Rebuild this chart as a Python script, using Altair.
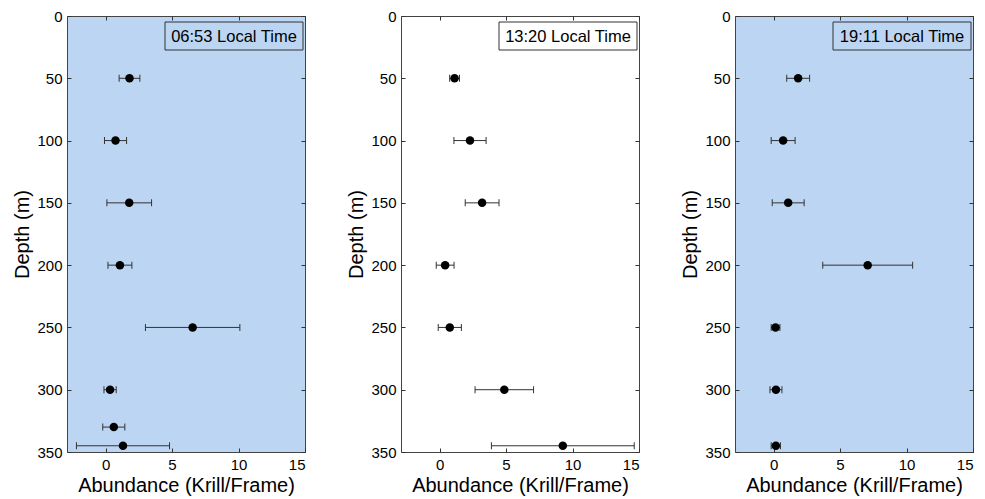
import altair as alt
import pandas as pd

# ---- data ----
labels = ["06:53 Local Time", "13:20 Local Time", "19:11 Local Time"]
backgrounds = ["#bcd5f2", "#ffffff", "#bcd5f2"]

depth_0653 = [50, 100, 150, 200, 250, 300, 330, 345]
mean_0653 = [1.80, 0.75, 1.78, 1.08, 6.55, 0.34, 0.62, 1.31]
err_0653 = [0.78, 0.83, 1.68, 0.90, 3.55, 0.46, 0.83, 3.50]

depth_1320 = [50, 100, 150, 200, 250, 300, 345]
mean_1320 = [1.13, 2.29, 3.20, 0.42, 0.77, 4.87, 9.27]
err_1320 = [0.37, 1.21, 1.27, 0.67, 0.87, 2.20, 5.37]

depth_1911 = [50, 100, 150, 200, 250, 300, 345]
mean_1911 = [1.85, 0.72, 1.10, 7.08, 0.15, 0.18, 0.17]
err_1911 = [0.86, 0.90, 1.20, 3.38, 0.33, 0.45, 0.35]

x_ticks = [0, 5, 10, 15]
y_ticks = [0, 50, 100, 150, 200, 250, 300, 350]
x_domain = [-2.9, 15]
y_domain = [0, 350]

W, H = 238, 436
FONT = "Liberation Sans"
INK = "#333333"


def tick_axis(orient, offset, values):
    return alt.Axis(orient=orient, offset=offset, values=values, labels=False,
                    title=None, domain=False, grid=False, ticks=True,
                    tickSize=4, tickColor=INK, tickWidth=1)


def panel(depths, means, errs, label, bg):
    df = pd.DataFrame({"depth": depths, "mean": means, "err": errs})
    df["lo"] = df["mean"] - df["err"]
    df["hi"] = df["mean"] + df["err"]
    xs = alt.Scale(domain=x_domain, nice=False, zero=False)
    ys = alt.Scale(domain=y_domain, reverse=True, nice=False, zero=False)
    base = alt.Chart(df)

    main_x = alt.Axis(orient="bottom", values=x_ticks, title="Abundance (Krill/Frame)",
                      ticks=False, domain=False, grid=False, labelPadding=5,
                      titlePadding=3)
    main_y = alt.Axis(orient="left", values=y_ticks, title="Depth (m)",
                      ticks=False, domain=False, grid=False, labelPadding=5,
                      titlePadding=4)

    bars = base.mark_rule(color=INK, strokeWidth=1).encode(
        x=alt.X("lo:Q", scale=xs, axis=main_x),
        x2="hi:Q",
        y=alt.Y("depth:Q", scale=ys, axis=main_y),
    )
    cap_lo = base.mark_tick(orient="vertical", size=7, thickness=1, color=INK, opacity=1).encode(
        x=alt.X("lo:Q", scale=xs, axis=tick_axis("top", -H, x_ticks)),
        y=alt.Y("depth:Q", scale=ys, axis=tick_axis("right", -W, y_ticks)),
    )
    cap_hi = base.mark_tick(orient="vertical", size=7, thickness=1, color=INK, opacity=1).encode(
        x=alt.X("hi:Q", scale=xs, axis=tick_axis("bottom", -H, x_ticks)),
        y=alt.Y("depth:Q", scale=ys, axis=tick_axis("left", -W, y_ticks)),
    )
    pts = base.mark_circle(size=72, color="black", opacity=1).encode(
        x=alt.X("mean:Q", scale=xs, axis=None),
        y=alt.Y("depth:Q", scale=ys, axis=None),
    )
    lab = alt.Chart(pd.DataFrame({"label": [label]}))
    box = lab.mark_rect(fillOpacity=0, stroke=INK, strokeWidth=1).encode(
        x=alt.value(98), x2=alt.value(236), y=alt.value(6), y2=alt.value(34)
    )
    txt = lab.mark_text(font=FONT, fontSize=16.5, align="center", baseline="middle",
                        color="black").encode(
        x=alt.value(167), y=alt.value(20.5), text="label:N"
    )
    return alt.layer(bars, cap_lo, cap_hi, pts, box, txt).resolve_axis(
        x="independent", y="independent"
    ).properties(width=W, height=H,
                 view=alt.ViewBackground(fill=bg, stroke="#444444", strokeWidth=1))


chart = alt.hconcat(
    panel(depth_0653, mean_0653, err_0653, labels[0], backgrounds[0]),
    panel(depth_1320, mean_1320, err_1320, labels[1], backgrounds[1]),
    panel(depth_1911, mean_1911, err_1911, labels[2], backgrounds[2]),
    spacing=40,
).properties(
    padding={"left": 4, "top": 0, "right": 0, "bottom": 0}
).configure_axis(
    labelFont=FONT, labelFontSize=15, labelColor="black",
    titleFont=FONT, titleFontSize=20, titleColor="black", titleFontWeight="normal",
)

chart.save("out.html", embed_options={"renderer": "svg", "actions": False})
